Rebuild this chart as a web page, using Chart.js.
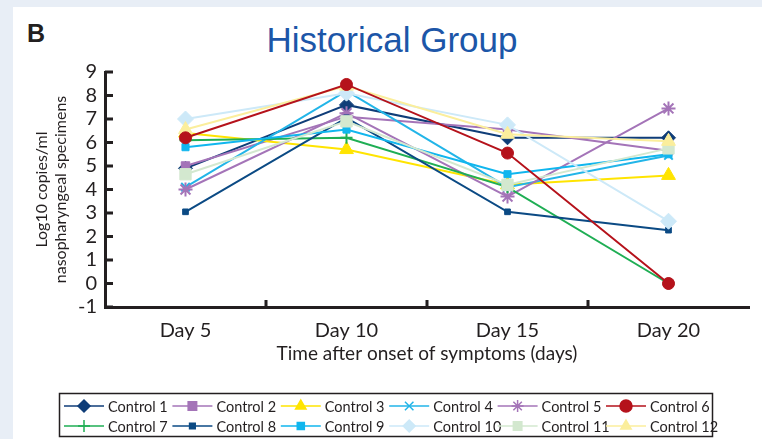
<!DOCTYPE html>
<html>
<head>
<meta charset="utf-8">
<script src="https://cdn.jsdelivr.net/npm/chart.js@4/dist/chart.umd.min.js"></script>
<style>
  body { margin: 0; width: 762px; height: 439px; background: #e8eef6; overflow: hidden; position: relative; }
  #panel { position: absolute; left: 13px; top: 7px; right: 0; bottom: 0; background: #fff; }
  #letter { position: absolute; left: 27px; top: 21px; font: bold 25px/25px "Liberation Sans", Arial, sans-serif; color: #231f20; }
  #title { position: absolute; left: 0; top: 22px; width: 784px; text-align: center; font: 35px/35px "Liberation Sans", Arial, sans-serif; color: #1c56a8; }
  canvas { position: absolute; left: 0; top: 0; }
</style>
</head>
<body>
<div id="panel"></div>
<div id="letter">B</div>
<div id="title">Historical Group</div>
<canvas id="chart" width="762" height="439"></canvas>
<script>
// Data
const days = ['Day 5', 'Day 10', 'Day 15', 'Day 20'];
const yTicks = [-1, 0, 1, 2, 3, 4, 5, 6, 7, 8, 9];

const control1 = [4.9, 7.6, 6.2, 6.2];
const control2 = [5.0, 7.1, 6.55, 5.65];
const control3 = [6.4, 5.7, 4.2, 4.6];
const control4 = [4.1, 8.2, 4.1, 5.45];
const control5 = [4.0, 7.25, 3.7, 7.45];
const control6 = [6.2, 8.47, 5.55, 0];
const control7 = [6.1, 6.2, 4.1, 0];
const control8 = [3.05, 7.05, 3.05, 2.27];
const control9 = [5.8, 6.55, 4.65, 5.5];
const control10 = [7.0, 8.1, 6.75, 2.65];
const control11 = [4.65, 6.9, 4.2, 5.75];
const control12 = [6.55, 8.4, 6.35, 6.05];

const ink = '#231f20';
const axisFont = { family: 'Lato, "DejaVu Sans", sans-serif', size: 20 };

// Build one line dataset; later series are painted on top, Control 6 over all
function series(index, data, color, style, radius) {
    return {
        label: 'Control ' + (index + 1),
        data: data,
        order: index === 5 ? -20 : -index,
        borderColor: color,
        borderWidth: 2,
        pointStyle: style,
        pointRadius: radius,
        pointBackgroundColor: color,
        pointBorderColor: color,
        pointBorderWidth: (style === 'star' || style === 'cross' || style === 'crossRot') ? 2 : 1,
        tension: 0
    };
}

const datasets = [
    series(0, control1, '#0f3d78', 'rectRot', 7),
    series(1, control2, '#a474b8', 'rect', 6),
    series(2, control3, '#ffe400', 'triangle', 8),
    series(3, control4, '#22b5e8', 'crossRot', 6),
    series(4, control5, '#a474b8', 'star', 7),
    series(5, control6, '#b5121b', 'circle', 6),
    series(6, control7, '#1fae54', 'cross', 6),
    series(7, control8, '#0b4a84', 'rect', 4),
    series(8, control9, '#10b6ee', 'rect', 5),
    series(9, control10, '#cde9f8', 'rectRot', 8),
    series(10, control11, '#d3e8cf', 'rect', 8),
    series(11, control12, '#fbee9c', 'triangle', 8)
];

// Inward tick marks on both axes
const tickMarks = {
    id: 'tickMarks',
    beforeDatasetsDraw(chart) {
        const { ctx, scales: { x, y }, chartArea } = chart;
        ctx.save();
        ctx.strokeStyle = ink;
        ctx.lineWidth = 3;
        ctx.beginPath();
        yTicks.forEach(v => {
            const py = y.getPixelForValue(v);
            ctx.moveTo(chartArea.left, py);
            ctx.lineTo(chartArea.left + 8, py);
        });
        for (let i = 0; i < days.length - 1; i++) {
            const px = (x.getPixelForValue(i) + x.getPixelForValue(i + 1)) / 2;
            ctx.moveTo(px, chartArea.bottom);
            ctx.lineTo(px, chartArea.bottom - 7);
        }
        ctx.stroke();
        ctx.restore();
    }
};

// Boxed legend, two rows of six
const boxLegend = {
    id: 'boxLegend',
    afterDraw(chart) {
        const ctx = chart.ctx;
        const cols = 6;
        ctx.save();
        ctx.strokeStyle = ink;
        ctx.lineWidth = 1.5;
        ctx.strokeRect(59.5, 393.5, 653, 43);
        ctx.font = '14.5px Lato, "DejaVu Sans", sans-serif';
        ctx.textBaseline = 'middle';
        chart.data.datasets.forEach((ds, i) => {
            const x0 = 64 + (i % cols) * 108.4;
            const y0 = i < cols ? 406 : 426;
            ctx.strokeStyle = ds.borderColor;
            ctx.lineWidth = 1.5;
            ctx.beginPath();
            ctx.moveTo(x0, y0);
            ctx.lineTo(x0 + 40, y0);
            ctx.stroke();
            ctx.fillStyle = ds.pointBackgroundColor;
            ctx.strokeStyle = ds.pointBorderColor;
            Chart.helpers.drawPoint(ctx, {
                pointStyle: ds.pointStyle,
                radius: Math.min(ds.pointRadius, 6),
                borderWidth: ds.pointBorderWidth,
                rotation: 0
            }, x0 + 20, y0);
            ctx.fillStyle = ink;
            ctx.fillText(ds.label, x0 + 44, y0 + 1);
        });
        ctx.restore();
    }
};

new Chart(document.getElementById('chart'), {
    type: 'line',
    data: { labels: days, datasets: datasets },
    options: {
        responsive: false,
        animation: false,
        layout: { padding: { top: 72, right: 13, bottom: 64, left: 0 } },
        plugins: {
            legend: { display: false },
            title: { display: false },
            tooltip: { enabled: false }
        },
        scales: {
            x: {
                offset: true,
                grid: { display: false, drawTicks: false },
                border: { color: ink, width: 3 },
                ticks: { color: ink, font: axisFont, padding: 12 },
                title: {
                    display: true,
                    text: 'Time after onset of symptoms (days)',
                    color: ink,
                    font: { family: axisFont.family, size: 19 },
                    padding: { top: 4, bottom: 10 }
                },
                afterFit(scale) { scale.height = 68; }
            },
            y: {
                min: -1,
                max: 9,
                grid: { display: false, drawTicks: false },
                border: { color: ink, width: 3 },
                ticks: { stepSize: 1, autoSkip: false, color: ink, font: axisFont, padding: 8 },
                title: {
                    display: true,
                    text: ['Log10 copies/ml', 'nasopharyngeal specimens'],
                    color: ink,
                    font: { family: axisFont.family, size: 16 },
                    padding: { top: 32, bottom: 0 }
                },
                afterFit(scale) { scale.width = 105; }
            }
        }
    },
    plugins: [tickMarks, boxLegend]
});
</script>
</body>
</html>
